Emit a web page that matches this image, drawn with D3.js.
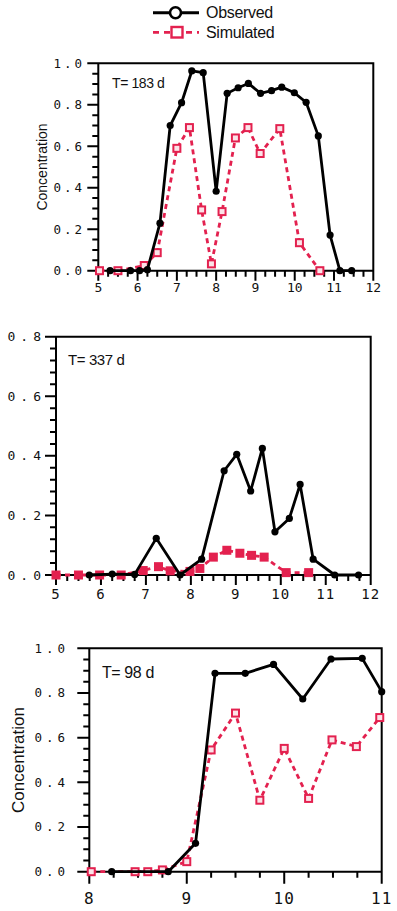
<!DOCTYPE html>
<html><head><meta charset="utf-8">
<script src="https://cdn.jsdelivr.net/npm/d3@7"></script>
<style>body{margin:0;background:#fff}</style>
</head><body><svg id="c" width="397" height="911"></svg>
<script>
// ---------- DATA ----------
const seriesNames = ["Observed", "Simulated"];
const panelLabels = ["T= 183 d", "T= 337 d", "T= 98 d"];
const xTicks1 = [5, 6, 7, 8, 9, 10, 11, 12];
const yTicks1 = [0, 0.2, 0.4, 0.6, 0.8, 1.0];
const xTicks2 = [5, 6, 7, 8, 9, 10, 11, 12];
const yTicks2 = [0, 0.2, 0.4, 0.6, 0.8];
const xTicks3 = [8, 9, 10, 11];
const yTicks3 = [0, 0.2, 0.4, 0.6, 0.8, 1.0];

const obs1X = [5.3, 5.82, 6.05, 6.25, 6.57, 6.83, 7.12, 7.38, 7.67, 8.0, 8.28, 8.56, 8.82, 9.13, 9.41, 9.67, 9.99, 10.29, 10.6, 10.9, 11.15, 11.45];
const obs1Y = [0, 0, 0, 0.005, 0.229, 0.70, 0.81, 0.963, 0.955, 0.383, 0.855, 0.882, 0.903, 0.855, 0.868, 0.885, 0.858, 0.812, 0.65, 0.172, 0, 0];
const sim1X = [5.03, 5.5, 6.17, 6.5, 7.0, 7.32, 7.63, 7.88, 8.15, 8.49, 8.81, 9.12, 9.62, 10.12, 10.64];
const sim1Y = [0, 0, 0.025, 0.087, 0.59, 0.69, 0.293, 0.033, 0.285, 0.64, 0.69, 0.565, 0.685, 0.135, 0];

const obs2X = [5.74, 6.25, 6.75, 7.23, 7.76, 8.24, 8.74, 9.02, 9.33, 9.59, 9.87, 10.19, 10.43, 10.72, 11.2, 11.73];
const obs2Y = [0, 0.003, 0.002, 0.123, 0, 0.053, 0.35, 0.405, 0.282, 0.425, 0.145, 0.19, 0.304, 0.053, 0, 0];
const sim2X = [5.0, 5.5, 5.97, 6.45, 6.94, 7.28, 7.54, 7.98, 8.2, 8.5, 8.8, 9.09, 9.35, 9.63, 10.12, 10.62];
const sim2Y = [0, 0, 0, 0, 0.015, 0.028, 0.014, 0.012, 0.022, 0.06, 0.083, 0.073, 0.066, 0.06, 0.008, 0.008];

const obs3X = [8.23, 8.81, 9.09, 9.29, 9.6, 9.89, 10.19, 10.48, 10.8, 11.0];
const obs3Y = [0, 0, 0.127, 0.888, 0.888, 0.928, 0.773, 0.952, 0.955, 0.806];
const sim3X = [8.02, 8.47, 8.6, 8.75, 9.0, 9.25, 9.5, 9.75, 10.0, 10.25, 10.49, 10.74, 10.98];
const sim3Y = [0, 0, 0, 0.008, 0.045, 0.545, 0.71, 0.32, 0.552, 0.328, 0.59, 0.56, 0.69];

// ---------- LAYOUT ----------
const RED = "#e3214f";
const svg = d3.select("#c");
svg.append("rect").attr("width", 397).attr("height", 911).attr("fill", "#fff");

const panels = [
  {left: 98.3, right: 373.3, top: 63.3, bottom: 270.7, xd: [5, 12], yd: [0, 1.0],
   xt: xTicks1, yt: yTicks1, yMinor: 0.05, xMinor: 0.25,
   ox: obs1X, oy: obs1Y, sx: sim1X, sy: sim1Y, label: panelLabels[0], lx: 112, ly: 88, lfs: 14,
   yfs: 12.5, yls: 3, yRight: 85, xfs: 13, xls: 0, xTop: 282, majX: 10, majY: 11,
   ylab: {x: 47, y: 167, fs: 14}, filledSim: false},
  {left: 56, right: 370.7, top: 336.7, bottom: 575, xd: [5, 12], yd: [0, 0.8],
   xt: xTicks2, yt: yTicks2, yMinor: 0.04, xMinor: 0.25,
   ox: obs2X, oy: obs2Y, sx: sim2X, sy: sim2Y, label: panelLabels[1], lx: 68, ly: 365, lfs: 15,
   yfs: 13, yls: 5, yRight: 46, xfs: 14, xls: 1, xTop: 588, majX: 10, majY: 11,
   ylab: null, filledSim: true},
  {left: 89.3, right: 381.7, top: 648.3, bottom: 871.7, xd: [8, 11], yd: [0, 1.0],
   xt: xTicks3, yt: yTicks3, yMinor: 0.05, xMinor: 0.25,
   ox: obs3X, oy: obs3Y, sx: sim3X, sy: sim3Y, label: panelLabels[2], lx: 102, ly: 678, lfs: 16,
   yfs: 12.5, yls: 4, yRight: 69, xfs: 16, xls: 1, xTop: 892, majX: 12, majY: 12,
   ylab: {x: 24, y: 760, fs: 17}, filledSim: false}
];

panels.forEach(p => {
  const x = d3.scaleLinear().domain(p.xd).range([p.left, p.right]);
  const y = d3.scaleLinear().domain(p.yd).range([p.bottom, p.top]);
  const g = svg.append("g");

  const yMin = d3.range(p.yd[0], p.yd[1] + 1e-9, p.yMinor);
  const xMin = d3.range(p.xd[0], p.xd[1] + 1e-9, p.xMinor);

  // frame + ticks as one comb path
  const path = d3.path();
  path.rect(p.left, p.top, p.right - p.left, p.bottom - p.top);
  yMin.forEach(v => { path.moveTo(p.left, y(v)); path.lineTo(p.left - 6, y(v)); });
  p.yt.forEach(v => { path.moveTo(p.left, y(v)); path.lineTo(p.left - p.majY, y(v)); });
  xMin.forEach(v => { path.moveTo(x(v), p.bottom); path.lineTo(x(v), p.bottom + 6); });
  p.xt.forEach(v => { path.moveTo(x(v), p.bottom); path.lineTo(x(v), p.bottom + p.majX); });
  g.append("path").attr("d", path.toString()).attr("fill", "none")
    .attr("stroke", "#000").attr("stroke-width", 2);

  // tick labels
  g.selectAll(".ylab").data(p.yt).enter().append("text")
    .attr("x", p.yRight).attr("y", d => y(d)).attr("dy", "0.35em")
    .attr("text-anchor", "end").text(d3.format(".1f"))
    .attr("font-family", "DejaVu Sans Mono").attr("font-size", p.yfs)
    .attr("letter-spacing", p.yls).attr("fill", "#111");
  g.selectAll(".xlab").data(p.xt).enter().append("text")
    .attr("x", d => x(d)).attr("y", p.xTop).attr("dy", "0.75em")
    .attr("text-anchor", "middle").text(d3.format("d"))
    .attr("font-family", "DejaVu Sans Mono").attr("font-size", p.xfs)
    .attr("letter-spacing", p.xls).attr("fill", "#111");

  // simulated
  const sim = p.sx.map((v, i) => [v, p.sy[i]]);
  const obs = p.ox.map((v, i) => [v, p.oy[i]]);
  const line = d3.line().x(d => x(d[0])).y(d => y(d[1]));
  g.append("path").attr("d", line(sim)).attr("fill", "none").attr("stroke", RED)
    .attr("stroke-width", 2.8).attr("stroke-dasharray", "5,4");
  g.selectAll(".sq").data(sim).enter().append("rect")
    .attr("x", d => x(d[0]) - 3.5).attr("y", d => y(d[1]) - 3.5)
    .attr("width", 7).attr("height", 7)
    .attr("fill", p.filledSim ? RED : "#fbe3e8").attr("stroke", RED).attr("stroke-width", 2);

  // observed
  g.append("path").attr("d", line(obs)).attr("fill", "none").attr("stroke", "#000")
    .attr("stroke-width", 2.8).attr("stroke-linejoin", "round");
  g.selectAll(".ci").data(obs).enter().append("circle")
    .attr("cx", d => x(d[0])).attr("cy", d => y(d[1])).attr("r", 3.6).attr("fill", "#000");

  // panel label
  g.append("text").attr("x", p.lx).attr("y", p.ly).text(p.label)
    .attr("font-family", "Liberation Sans, Arial, sans-serif").attr("font-size", p.lfs)
    .attr("letter-spacing", -0.4).attr("fill", "#111");

  if (p.ylab) {
    g.append("text").attr("transform", `translate(${p.ylab.x},${p.ylab.y}) rotate(-90)`)
      .attr("text-anchor", "middle").text("Concentration")
      .attr("font-family", "Liberation Sans, Arial, sans-serif").attr("font-size", p.ylab.fs)
      .attr("fill", "#111");
  }
});

// ---------- LEGEND ----------
const lg = svg.append("g");
lg.append("line").attr("x1", 153).attr("x2", 199).attr("y1", 12.7).attr("y2", 12.7)
  .attr("stroke", "#000").attr("stroke-width", 3);
lg.append("circle").attr("cx", 175.5).attr("cy", 12.7).attr("r", 5.5)
  .attr("fill", "#fff").attr("stroke", "#000").attr("stroke-width", 2.6);
lg.append("text").attr("x", 206).attr("y", 18).text(seriesNames[0])
  .attr("font-family", "Liberation Sans, Arial, sans-serif").attr("font-size", 16)
  .attr("letter-spacing", -0.3).attr("fill", "#111");
lg.append("line").attr("x1", 153).attr("x2", 199).attr("y1", 32.3).attr("y2", 32.3)
  .attr("stroke", RED).attr("stroke-width", 2.8).attr("stroke-dasharray", "6,5");
lg.append("rect").attr("x", 171.5).attr("y", 27).attr("width", 11).attr("height", 10.5)
  .attr("fill", "#fff").attr("stroke", RED).attr("stroke-width", 2.4);
lg.append("text").attr("x", 206).attr("y", 38).text(seriesNames[1])
  .attr("font-family", "Liberation Sans, Arial, sans-serif").attr("font-size", 16)
  .attr("letter-spacing", -0.3).attr("fill", "#111");
</script></body></html>
